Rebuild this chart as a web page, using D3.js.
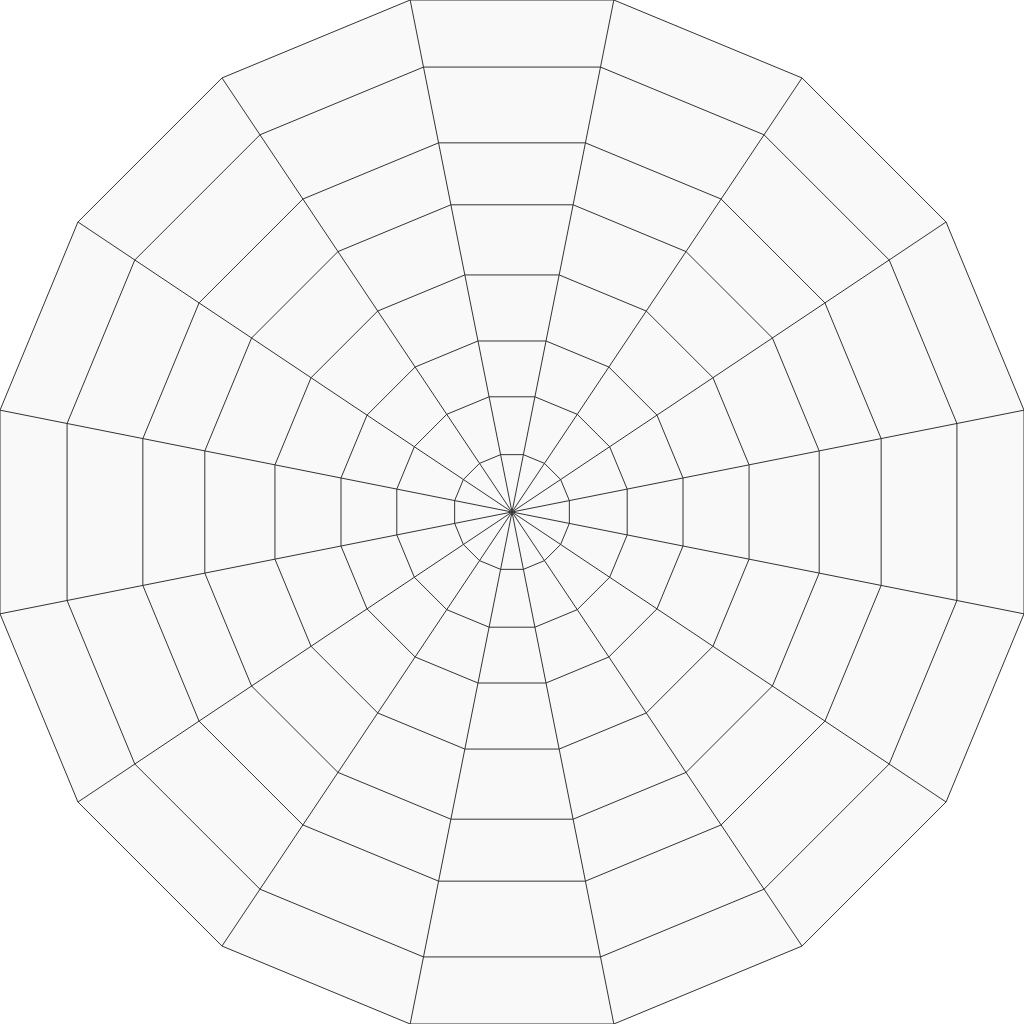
<!DOCTYPE html>
<html>
<head>
<meta charset="utf-8">
<script src="https://cdn.jsdelivr.net/npm/d3@7"></script>
<style>
  html, body { margin: 0; padding: 0; background: #fff; }
  svg { display: block; }
</style>
</head>
<body>
<svg id="chart" width="1024" height="1024"></svg>
<script>
// 16 axes, grid levels (fraction of outer radius)
const axes = d3.range(16).map(i => "A" + (i + 1));
const levels = [0.112, 0.225, 0.334, 0.463, 0.600, 0.721, 0.869, 1.0];

const width = 1024, height = 1024;
const cx = width / 2, cy = height / 2;
const n = axes.length;
const apothem = 512;
const R = apothem / Math.cos(Math.PI / n);

const r = d3.scaleLinear().domain([0, 1]).range([0, R]);
const angle = d3.scaleLinear().domain([0, n]).range([Math.PI / n, Math.PI / n + 2 * Math.PI]);

const svg = d3.select("#chart");
const g = svg.append("g").attr("transform", `translate(${cx},${cy})`);

const pt = (i, v) => [r(v) * Math.sin(angle(i)), -r(v) * Math.cos(angle(i))];
const line = d3.line().curve(d3.curveLinearClosed);

// rings, outer first
g.selectAll("path.ring")
  .data(levels.slice().reverse())
  .join("path")
  .attr("class", "ring")
  .attr("d", v => line(axes.map((a, i) => pt(i, v))))
  .attr("fill", "#f9f9f9")
  .attr("stroke", "#333")
  .attr("stroke-width", 1);

// spokes
g.selectAll("line.spoke")
  .data(axes)
  .join("line")
  .attr("class", "spoke")
  .attr("x1", 0).attr("y1", 0)
  .attr("x2", (a, i) => pt(i, 1)[0])
  .attr("y2", (a, i) => pt(i, 1)[1])
  .attr("stroke", "#333")
  .attr("stroke-width", 1);
</script>
</body>
</html>
